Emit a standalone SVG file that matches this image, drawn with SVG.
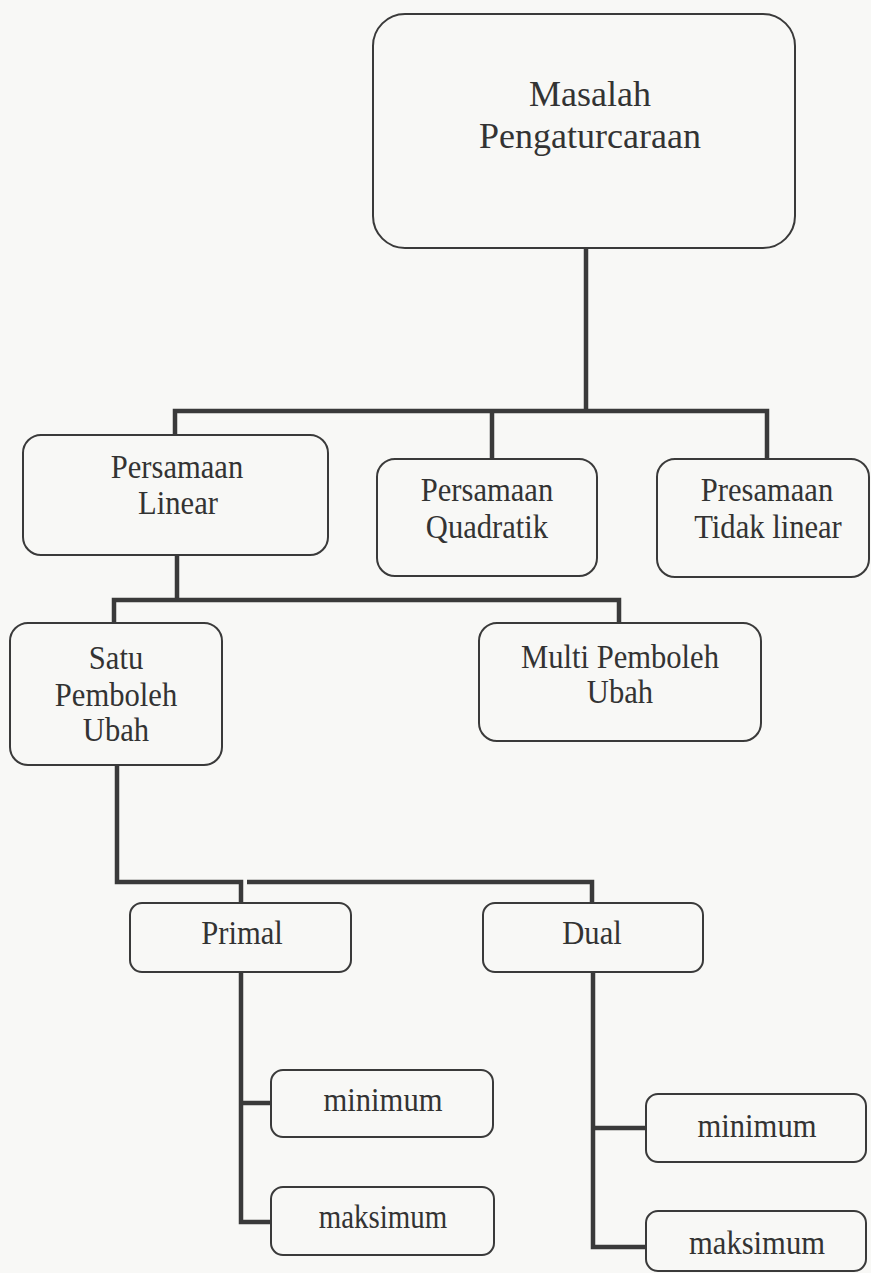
<svg xmlns="http://www.w3.org/2000/svg" width="871" height="1273" viewBox="0 0 871 1273">
<style>
.box{fill:#f8f8f6;stroke:#3a3a3a;stroke-width:2}
.t{font-family:"Liberation Serif","Times New Roman",serif;font-size:34px;fill:#333;text-anchor:middle}
.big{font-size:36px}
.c{fill:none;stroke:#3a3a3a;stroke-width:4.5;stroke-linejoin:miter;stroke-linecap:butt}
</style>
<rect width="871" height="1273" fill="#f8f8f6"/>
<g id="connectors">
<path class="c" d="M586 248 V411"/>
<path class="c" d="M175 435 V411 H767 V459"/>
<path class="c" d="M492 411 V459"/>
<path class="c" d="M177 555 V600"/>
<path class="c" d="M114 623 V600 H619 V623"/>
<path class="c" d="M117 765 V882 H241 V903"/>
<path class="c" d="M247 882 H592 V903"/>
<path class="c" d="M241 972 V1222 H271"/>
<path class="c" d="M241 1103 H271"/>
<path class="c" d="M593 972 V1247 H646"/>
<path class="c" d="M593 1128 H646"/>
</g>
<g id="n-masalah">
<rect class="box" x="373" y="14" width="422" height="234" rx="32"/>
<text class="t big" x="590" y="106">Masalah</text>
<text class="t big" x="590" y="148">Pengaturcaraan</text>
</g>
<g id="n-linear">
<rect class="box" x="23" y="435" width="305" height="120" rx="18"/>
<text class="t" transform="translate(177 0) scale(0.9 1)" x="0" y="478">Persamaan</text>
<text class="t" transform="translate(178 0) scale(0.9 1)" x="0" y="514">Linear</text>
</g>
<g id="n-quadratik">
<rect class="box" x="377" y="459" width="220" height="117" rx="18"/>
<text class="t" transform="translate(487 0) scale(0.9 1)" x="0" y="501">Persamaan</text>
<text class="t" transform="translate(487 0) scale(0.9 1)" x="0" y="538">Quadratik</text>
</g>
<g id="n-tidaklinear">
<rect class="box" x="657" y="459" width="212" height="118" rx="18"/>
<text class="t" transform="translate(767 0) scale(0.9 1)" x="0" y="501">Presamaan</text>
<text class="t" transform="translate(768 0) scale(0.9 1)" x="0" y="538">Tidak linear</text>
</g>
<g id="n-satu">
<rect class="box" x="10" y="623" width="212" height="142" rx="18"/>
<text class="t" transform="translate(116 0) scale(0.9 1)" x="0" y="669">Satu</text>
<text class="t" transform="translate(116 0) scale(0.9 1)" x="0" y="706">Pemboleh</text>
<text class="t" transform="translate(116 0) scale(0.9 1)" x="0" y="741">Ubah</text>
</g>
<g id="n-multi">
<rect class="box" x="479" y="623" width="282" height="118" rx="18"/>
<text class="t" transform="translate(620 0) scale(0.9 1)" x="0" y="668">Multi Pemboleh</text>
<text class="t" transform="translate(620 0) scale(0.9 1)" x="0" y="703">Ubah</text>
</g>
<g id="n-primal">
<rect class="box" x="130" y="903" width="221" height="69" rx="12"/>
<text class="t" transform="translate(242 0) scale(0.9 1)" x="0" y="944">Primal</text>
</g>
<g id="n-dual">
<rect class="box" x="483" y="903" width="220" height="69" rx="12"/>
<text class="t" transform="translate(592 0) scale(0.9 1)" x="0" y="944">Dual</text>
</g>
<g id="n-primal-min">
<rect class="box" x="271" y="1070" width="222" height="67" rx="12"/>
<text class="t" transform="translate(383 0) scale(0.9 1)" x="0" y="1111">minimum</text>
</g>
<g id="n-primal-max">
<rect class="box" x="271" y="1187" width="223" height="68" rx="12"/>
<text class="t" transform="translate(383 0) scale(0.85 1)" x="0" y="1228">maksimum</text>
</g>
<g id="n-dual-min">
<rect class="box" x="646" y="1094" width="220" height="68" rx="12"/>
<text class="t" transform="translate(757 0) scale(0.9 1)" x="0" y="1137">minimum</text>
</g>
<g id="n-dual-max">
<rect class="box" x="646" y="1211" width="220" height="60" rx="12"/>
<text class="t" transform="translate(757 0) scale(0.9 1)" x="0" y="1254">maksimum</text>
</g>
</svg>
